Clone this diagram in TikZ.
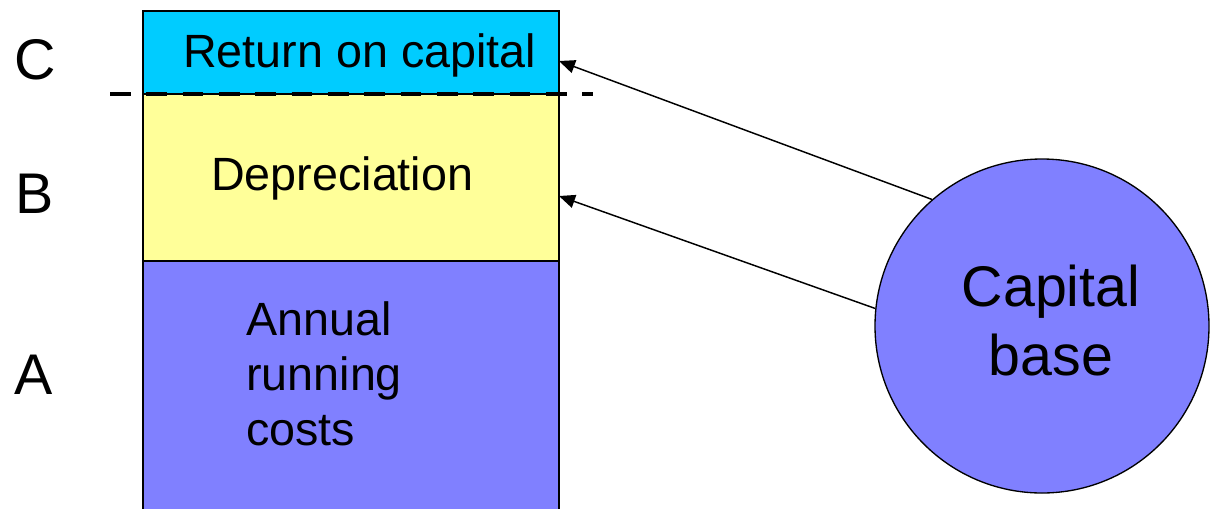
\documentclass[tikz,border=0pt]{standalone}
\usepackage{fontspec}
\setmainfont{Liberation Sans}
\usetikzlibrary{arrows.meta}
\definecolor{capcyan}{RGB}{0,204,255}
\definecolor{depyellow}{RGB}{255,255,153}
\definecolor{runblue}{RGB}{128,128,255}
\tikzset{
  seg/.style={draw=black, line width=0.9pt},
  boxtext/.style={inner sep=0pt, font=\fontsize{35}{41.25}\selectfont},
  bigtext/.style={inner sep=0pt, font=\fontsize{43}{51.75}\selectfont},
  arr/.style={line width=1.1pt, -{Triangle[length=12pt,width=10pt]}},
  divider/.style={line width=3pt, dash pattern=on 15.5pt off 11.75pt}
}
\begin{document}
\begin{tikzpicture}[x=0.75pt,y=-0.75pt]
\useasboundingbox (0,0) rectangle (1213,508);
\clip (0,0) rectangle (1213,508);
% stacked bar
\path[seg, fill=runblue] (143,261) rectangle (559,515);
\path[seg, fill=depyellow] (143,94) rectangle (559,261);
\path[seg, fill=capcyan] (143,11) rectangle (559,94);
\coordinate (tC) at (559,61);
\coordinate (tB) at (559,196);
% labels in bar
\node[boxtext, anchor=base west] (ret) at (183,67) {Return on capital};
\node[boxtext, anchor=base west] (dep) at (211,190) {Depreciation};
\node[boxtext, anchor=base west, align=left] (run) at (246,445) {Annual\\running\\costs};
% dashed divider
\coordinate (dL) at (110,94);
\coordinate (dR) at (593,94);
\draw[divider] (dL) -- (dR);
% side letters
\node[bigtext, anchor=base west] (lC) at (14,79) {C};
\node[bigtext, anchor=base west] (lB) at (15,213) {B};
\node[bigtext, anchor=base west] (lA) at (14,394) {A};
% capital base circle
\node[circle, draw=black, line width=1pt, fill=runblue, minimum size=250.5pt, inner sep=0pt] (cb) at (1042,326) {};
\node[bigtext, anchor=base, align=center] (cbt) at (1051,375) {Capital\\base};
% arrows
\draw[arr] (cb.131) -- (tC);
\draw[arr] (cb.174) -- (tB);
\end{tikzpicture}
\end{document}
